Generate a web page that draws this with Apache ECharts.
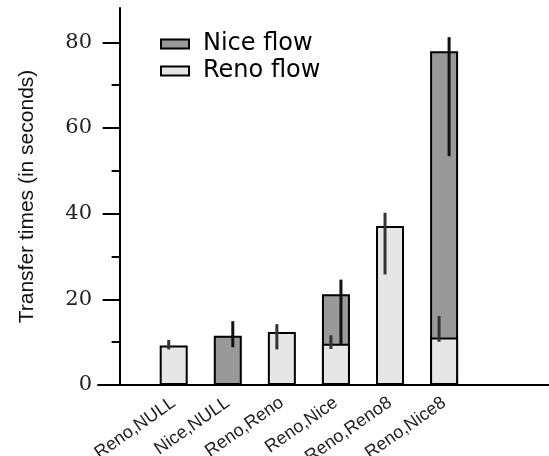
<!DOCTYPE html>
<html>
<head>
<meta charset="utf-8">
<script src="https://cdn.jsdelivr.net/npm/echarts@6/dist/echarts.min.js"></script>
<style>
  html, body { margin: 0; padding: 0; background: #fff; }
  #main { width: 549px; height: 456px; }
</style>
</head>
<body>
<div id="main"></div>
<script>
// categories along the x axis (placed at positions 1..6)
const categories = ['Reno,NULL', 'Nice,NULL', 'Reno,Reno', 'Reno,Nice', 'Reno,Reno8', 'Reno,Nice8'];
// mean transfer times (seconds), null where the flow does not exist
const niceFlow = [null, 11.5, null, 21.2, null, 77.9];
const renoFlow = [9.2, null, 12.4, 9.6, 37.1, 11.1];
// error bar ranges [low, high]
const niceErr = [null, [8.8, 14.9], null, [9.3, 24.6], null, [53.4, 81.2]];
const renoErr = [[8.3, 10.5], null, [8.3, 14.2], [8.4, 11.6], [25.8, 40.2], [10.1, 16.1]];
const yMajorTicks = [0, 20, 40, 60, 80];
const yMinorTicks = [10, 30, 50, 70];

document.addEventListener('DOMContentLoaded', function () {
    const chart = echarts.init(document.getElementById('main'));

    const toPoints = arr => arr.map((v, i) => v == null ? null : [i + 1, v]).filter(d => d);
    const toErr = arr => arr.map((r, i) => r == null ? null : [i + 1, r[0], r[1]]).filter(d => d);

    // draws vertical error lines, shifted sideways by a few pixels
    function errorRenderer(shift, color) {
        return function (params, api) {
            const lo = api.coord([api.value(0), api.value(1)]);
            const hi = api.coord([api.value(0), api.value(2)]);
            return {
                type: 'line',
                shape: { x1: lo[0] + shift, y1: lo[1], x2: hi[0] + shift, y2: hi[1] },
                style: { stroke: color, lineWidth: 3 }
            };
        };
    }

    const option = {
        animation: false,
        grid: { left: 98, right: 0, top: 8, bottom: 71, outerBoundsMode: 'none', containLabel: false },
        legend: {
            orient: 'vertical',
            left: 155,
            top: 27,
            icon: 'rect',
            itemWidth: 28,
            itemHeight: 9,
            itemGap: 3,
            textStyle: { fontFamily: 'DejaVu Sans', fontSize: 24, color: '#000', lineHeight: 22, padding: [0, 0, 0, 9] },
            data: ['Nice flow', 'Reno flow']
        },
        xAxis: {
            type: 'value',
            min: -0.4,
            max: 7.94,
            axisLine: { onZero: true, lineStyle: { color: '#000', width: 2 } },
            axisTick: { show: false },
            splitLine: { show: false },
            axisLabel: {
                customValues: categories.map((c, i) => i + 1),
                formatter: v => categories[Math.round(v) - 1] || '',
                rotate: 35,
                margin: 16,
                fontFamily: 'Liberation Sans',
                fontSize: 18,
                color: '#222'
            }
        },
        yAxis: [{
            type: 'value',
            min: 0,
            max: 88,
            name: 'Transfer times (in seconds)',
            nameLocation: 'middle',
            nameRotate: 90,
            nameGap: 60,
            nameTextStyle: {
                fontFamily: 'Liberation Sans',
                fontSize: 21,
                color: '#111'
            },
            axisLine: { show: true, onZero: true, lineStyle: { color: '#000', width: 2 } },
            axisTick: { show: true, length: 17, customValues: yMajorTicks, lineStyle: { color: '#000', width: 2 } },
            axisLabel: {
                customValues: yMajorTicks,
                margin: 6,
                fontFamily: 'DejaVu Serif',
                fontSize: 21,
                color: '#222'
            },
            splitLine: { show: false }
        }, {
            type: 'value',
            min: 0,
            max: 88,
            position: 'left',
            axisLine: { show: false, onZero: true, onZeroAxisIndex: 0 },
            axisTick: { show: true, length: 8, customValues: yMinorTicks, lineStyle: { color: '#000', width: 2 } },
            axisLabel: { show: false },
            splitLine: { show: false }
        }],
        series: [{
            name: 'Nice flow',
            type: 'bar',
            barWidth: 28,
            barGap: '-100%',
            itemStyle: { color: '#999999', borderColor: '#000', borderWidth: 2 },
            data: toPoints(niceFlow)
        }, {
            name: 'Reno flow',
            type: 'bar',
            barWidth: 28,
            barGap: '-100%',
            itemStyle: { color: '#e6e6e6', borderColor: '#000', borderWidth: 2 },
            data: toPoints(renoFlow)
        }, {
            name: 'Nice err',
            type: 'custom',
            renderItem: errorRenderer(5, '#111'),
            encode: { x: 0, y: [1, 2] },
            data: toErr(niceErr),
            z: 5
        }, {
            name: 'Reno err',
            type: 'custom',
            renderItem: errorRenderer(-5, '#333'),
            encode: { x: 0, y: [1, 2] },
            data: toErr(renoErr),
            z: 5
        }]
    };
    chart.setOption(option);
});
</script>
</body>
</html>
